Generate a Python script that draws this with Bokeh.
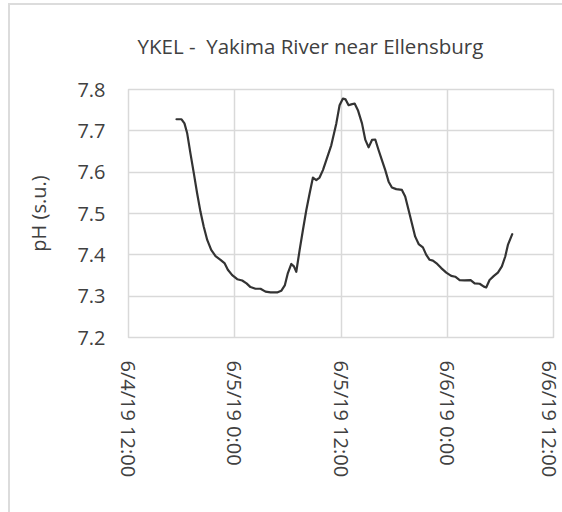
import math
from bokeh.plotting import figure
from bokeh.models import FixedTicker, Range1d
from bokeh.embed import file_html
from bokeh.resources import INLINE

# hours after 6/4/19 12:00
hours = [5.42, 5.99, 6.32, 6.63, 7.0, 7.38, 7.75, 8.13, 8.5, 8.89, 9.34, 9.83, 10.39, 10.84,
         11.22, 11.71, 12.28, 12.84, 13.33, 13.78, 14.34, 14.91, 15.47, 16.04, 16.79, 17.25,
         17.65, 18.0, 18.39, 18.68, 18.95, 19.33, 19.7, 20.08, 20.46, 20.83, 21.21, 21.58,
         21.96, 22.34, 22.9, 23.47, 23.84, 24.22, 24.52, 24.86, 25.16, 25.54, 25.91, 26.37,
         26.75, 27.12, 27.5, 27.87, 28.25, 28.62, 29.0, 29.38, 29.75, 30.24, 30.88, 31.25,
         31.64, 32.01, 32.38, 32.77, 33.25, 33.63, 34.01, 34.38, 34.87, 35.32, 35.89, 36.45,
         36.9, 37.4, 37.96, 38.64, 39.09, 39.66, 40.14, 40.4, 40.78, 41.27, 41.72, 42.17,
         42.55, 42.85, 43.34]
ph = [7.728, 7.728, 7.718, 7.694, 7.645, 7.597, 7.549, 7.504, 7.468, 7.436, 7.412, 7.397,
      7.388, 7.380, 7.364, 7.351, 7.341, 7.338, 7.331, 7.322, 7.318, 7.318, 7.311, 7.309,
      7.309, 7.313, 7.326, 7.356, 7.378, 7.372, 7.359, 7.412, 7.46, 7.508, 7.549, 7.587,
      7.581, 7.587, 7.605, 7.629, 7.665, 7.718, 7.762, 7.778, 7.776, 7.762, 7.764, 7.766,
      7.75, 7.718, 7.678, 7.66, 7.678, 7.679, 7.653, 7.629, 7.605, 7.577, 7.563, 7.559,
      7.557, 7.541, 7.508, 7.476, 7.444, 7.426, 7.418, 7.40, 7.388, 7.386, 7.378, 7.368,
      7.357, 7.349, 7.347, 7.339, 7.338, 7.339, 7.331, 7.33, 7.323, 7.321, 7.339, 7.349,
      7.357, 7.372, 7.396, 7.424, 7.45]

x_ticks = [0, 12, 24, 36, 48]
x_tick_labels = ["6/4/19 12:00", "6/5/19 0:00", "6/5/19 12:00", "6/6/19 0:00", "6/6/19 12:00"]
y_ticks = [7.2, 7.3, 7.4, 7.5, 7.6, 7.7, 7.8]
y_tick_labels = ["7.2", "7.3", "7.4", "7.5", "7.6", "7.7", "7.8"]

FONT = "Open Sans"
TXT = "#404040"
GRID = "#d9d9d9"

p = figure(width=562, height=512, output_backend="svg", toolbar_location=None,
           x_range=Range1d(0, 48), y_range=Range1d(7.2, 7.8),
           min_border_left=128, min_border_right=9, min_border_top=89, min_border_bottom=175)

p.line(hours, ph, line_color="#333333", line_width=2.2, line_join="round", line_cap="round")

p.title.text = "YKEL -\u00a0 Yakima River near Ellensburg"
p.title.text_font = FONT
p.title.text_font_size = "20.5px"
p.title.text_font_style = "normal"
p.title.text_color = TXT
p.title.align = "left"
p.title.offset = 9
p.title.standoff = 59

p.xaxis.ticker = FixedTicker(ticks=x_ticks)
p.xaxis.major_label_overrides = dict(zip(x_ticks, x_tick_labels))
p.xaxis.major_label_orientation = -math.pi / 2
p.yaxis.ticker = FixedTicker(ticks=y_ticks)
p.yaxis.major_label_overrides = dict(zip(y_ticks, y_tick_labels))

for ax in (p.xaxis, p.yaxis):
    ax.major_label_text_font = FONT
    ax.major_label_text_font_size = "20px"
    ax.major_label_text_color = TXT
    ax.axis_line_color = GRID
    ax.major_tick_line_color = None
    ax.minor_tick_line_color = None
    ax.major_tick_out = 0
    ax.major_tick_in = 0

p.xaxis.major_label_standoff = 23
p.yaxis.major_label_standoff = 23

yax = p.yaxis[0]
yax.axis_label = "pH (s.u.)"
yax.axis_label_text_font = FONT
yax.axis_label_text_font_size = "20px"
yax.axis_label_text_font_style = "normal"
yax.axis_label_text_color = TXT
yax.axis_label_standoff = 22

p.xgrid.grid_line_color = GRID
p.ygrid.grid_line_color = GRID
p.xgrid.grid_line_width = 1.5
p.ygrid.grid_line_width = 1.5
p.outline_line_color = GRID
p.outline_line_width = 1.5
p.background_fill_color = "white"
p.border_fill_color = None
p.styles = {"background": "linear-gradient(#dcdcdc,#dcdcdc) 8px 3px / 2px 509px no-repeat, "
                          "linear-gradient(#dcdcdc,#dcdcdc) 8px 3px / 554px 2px no-repeat, #ffffff"}

open("out.html", "w").write(file_html(p, INLINE))
